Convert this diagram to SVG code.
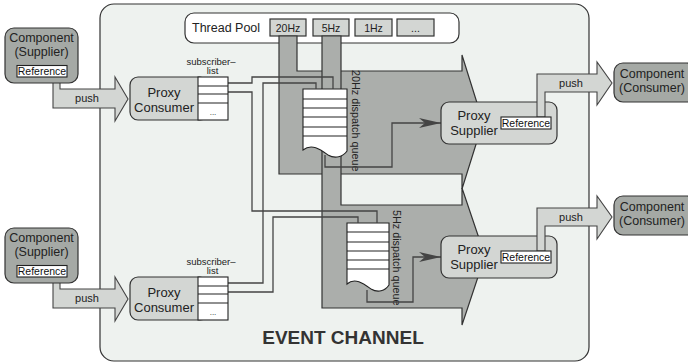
<svg xmlns="http://www.w3.org/2000/svg" width="688" height="364" viewBox="0 0 688 364">
<defs>
<style>
text{font-family:"Liberation Sans",Arial,Helvetica,sans-serif;fill:#222}
.ch{fill:#eef2ef;stroke:#333;stroke-width:1.2}
.big{fill:#abaeab;stroke:#333;stroke-width:1.2}
.lt{fill:#d3d6d3;stroke:#333;stroke-width:1.2}
.dk{fill:#a5a9a5;stroke:#333;stroke-width:1.2}
.wh{fill:#fff;stroke:#222;stroke-width:1.1}
.row{fill:none;stroke:#222;stroke-width:1.1}
.push{fill:#d3d6d3;stroke:#444;stroke-width:1.1}
.conn{fill:none;stroke:#444;stroke-width:1.3}
.t13{font-size:13px;text-anchor:middle}
.c13{font-size:12.5px;text-anchor:middle}
.t11{font-size:11px;text-anchor:middle}
.ref{font-size:10.5px;text-anchor:middle;fill:#111}
.sub{font-size:9.5px;text-anchor:middle}
.q{font-size:10.8px}
</style>
<marker id="ah" markerWidth="24" markerHeight="12" refX="22" refY="5" orient="auto" markerUnits="userSpaceOnUse">
<path d="M0,0 L22,5 L0,10 L6,5 Z" fill="#444"/>
</marker>
</defs>

<g id="event-channel">
<rect class="ch" x="100" y="4" width="489" height="357" rx="14"/>
<text x="343" y="344" style="font-size:19px;font-weight:bold;text-anchor:middle;fill:#333">EVENT CHANNEL</text>
</g>

<g id="thread-pool">
<rect x="185" y="13" width="274" height="30" rx="9" fill="#fff" stroke="#333" stroke-width="1.2"/>
<text x="192" y="32" style="font-size:12.5px">Thread Pool</text>
<rect class="lt" x="270" y="19" width="36" height="17"/>
<rect class="lt" x="313" y="19" width="36" height="17"/>
<rect class="lt" x="355" y="19" width="37" height="17"/>
<rect class="lt" x="397" y="19" width="37" height="17"/>
<text class="t11" x="288" y="31.5" style="font-size:10.5px">20Hz</text>
<text class="t11" x="331" y="31.5" style="font-size:10.5px">5Hz</text>
<text class="t11" x="373.5" y="31.5" style="font-size:10.5px">1Hz</text>
<text class="t11" x="415.5" y="31.5" style="font-size:10.5px">...</text>
</g>

<g id="dispatch-20hz">
<path class="big" d="M279,36 H297 V71 H462 V55 L483,122 L462,189 V174 H279 Z"/>
</g>
<g id="dispatch-5hz">
<path class="big" d="M322,36 H341 V205 H462 V188 L485,256 L462,325 V308 H322 Z"/>
</g>

<g id="queue-20hz">
<path class="wh" d="M303,89 H347 V151 C343,157 335,159 328,155 C321,150 312,143 303,150 Z"/>
<path class="row" d="M303,99 H347 M303,108 H347 M303,117 H347 M303,127 H347 M303,136 H347"/>
<text class="q" transform="translate(352,70) rotate(90)">20Hz dispatch queue</text>
</g>
<g id="queue-5hz">
<path class="wh" d="M347,223 H389 V285 C385,291 378,293 371,289 C364,284 355,277 347,284 Z"/>
<path class="row" d="M347,232 H389 M347,242 H389 M347,251 H389 M347,260 H389 M347,269 H389"/>
<text class="q" transform="translate(393,210) rotate(90)">5Hz dispatch queue</text>
</g>

<g id="connectors">
<path class="conn" d="M227,83 H252 V77 H333 V89"/>
<path class="conn" d="M227,92 H252 V211 H377 V223"/>
<path class="conn" d="M227,283 H263 V83 H316 V89"/>
<path class="conn" d="M227,292 H273 V217 H358 V223"/>
<path class="conn" d="M325,155 V167 H392 V123 H441" marker-end="url(#ah)"/>
<path class="conn" d="M367,290 V302 H413 V257 H441" marker-end="url(#ah)"/>
</g>

<g id="proxy-consumer-1">
<rect class="lt" x="130" y="77" width="78" height="43" rx="8"/>
<text class="t13" x="164" y="97">Proxy</text>
<text class="t13" x="164" y="112">Consumer</text>
<text class="sub" x="211" y="64.5">subscriber–</text>
<text class="sub" x="212.5" y="74">list</text>
<rect class="wh" x="198" y="77" width="30" height="43"/>
<path class="row" d="M198,86 H228 M198,94 H228 M198,103 H228"/>
<text x="213" y="115" style="font-size:8px;text-anchor:middle">...</text>
</g>

<g id="proxy-consumer-2">
<rect class="lt" x="130" y="277" width="78" height="43" rx="8"/>
<text class="t13" x="164" y="297">Proxy</text>
<text class="t13" x="164" y="312">Consumer</text>
<text class="sub" x="211" y="264.5">subscriber–</text>
<text class="sub" x="212.5" y="274">list</text>
<rect class="wh" x="198" y="277" width="30" height="43"/>
<path class="row" d="M198,286 H228 M198,294 H228 M198,303 H228"/>
<text x="213" y="315" style="font-size:8px;text-anchor:middle">...</text>
</g>

<g id="proxy-supplier-1">
<rect class="lt" x="441" y="102" width="116" height="42" rx="8"/>
<text class="t13" x="474" y="120">Proxy</text>
<text class="t13" x="474" y="135">Supplier</text>
<path class="push" d="M537,117 V74 H597 V62 L612,83 L597,105 V92 H545 V117 Z"/>
<text class="t11" x="571" y="86.5">push</text>
<rect class="wh" x="501" y="117" width="50" height="12"/>
<text class="ref" x="526" y="127">Reference</text>
</g>

<g id="proxy-supplier-2">
<rect class="lt" x="441" y="236" width="116" height="42" rx="8"/>
<text class="t13" x="474" y="254">Proxy</text>
<text class="t13" x="474" y="269">Supplier</text>
<path class="push" d="M537,251 V208 H597 V196 L612,217 L597,239 V226 H545 V251 Z"/>
<text class="t11" x="571" y="220.5">push</text>
<rect class="wh" x="501" y="251" width="50" height="12"/>
<text class="ref" x="526" y="261">Reference</text>
</g>

<g id="supplier-1">
<path class="push" d="M53,77 V108 H115 V121 L128,99 L115,77 V89 H60 V77 Z"/>
<text class="t11" x="87" y="102">push</text>
<rect class="dk" x="5" y="28" width="73" height="55" rx="9"/>
<text class="c13" x="41.5" y="41.5">Component</text>
<text class="c13" x="41.5" y="55.5">(Supplier)</text>
<rect class="wh" x="17" y="65.5" width="50" height="11.5"/>
<text class="ref" x="42" y="75">Reference</text>
</g>

<g id="supplier-2">
<path class="push" d="M53,277 V308 H115 V321 L128,299 L115,277 V289 H60 V277 Z"/>
<text class="t11" x="87" y="302">push</text>
<rect class="dk" x="5" y="228" width="73" height="55" rx="9"/>
<text class="c13" x="41.5" y="241.5">Component</text>
<text class="c13" x="41.5" y="255.5">(Supplier)</text>
<rect class="wh" x="17" y="265.5" width="50" height="11.5"/>
<text class="ref" x="42" y="275">Reference</text>
</g>

<g id="consumer-1">
<rect class="dk" x="614" y="63" width="82" height="39" rx="9"/>
<text class="c13" x="652" y="78">Component</text>
<text class="c13" x="652" y="92">(Consumer)</text>
</g>

<g id="consumer-2">
<rect class="dk" x="614" y="196" width="82" height="39" rx="9"/>
<text class="c13" x="652" y="211">Component</text>
<text class="c13" x="652" y="225">(Consumer)</text>
</g>
</svg>
